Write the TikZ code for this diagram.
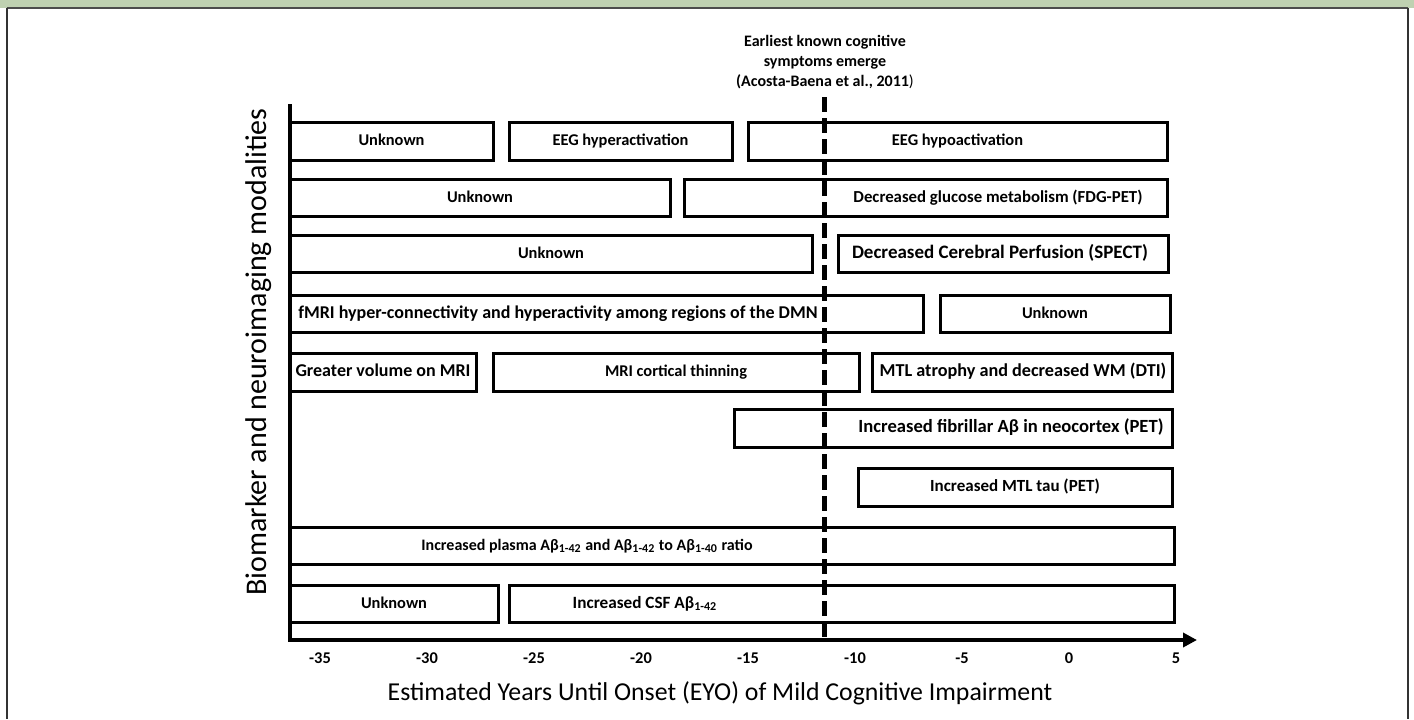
\documentclass[tikz,border=0pt]{standalone}
\usepackage{fontspec}
\setmainfont{Carlito}
\usetikzlibrary{arrows.meta}

\definecolor{headgreen}{HTML}{BFD1B1}

\tikzset{
  bar/.style={draw, line width=1.5pt, minimum height=18.75pt, inner sep=0pt,
    text height=5.6pt, text depth=1.6pt, font=\bfseries\fontsize{8.2}{9}\selectfont},
  lbl/.style={font=\bfseries\fontsize{8.2}{9}\selectfont, inner sep=0pt,
    text height=5.6pt, text depth=1.6pt},
  big/.style={font=\bfseries\fontsize{#1}{10}\selectfont},
  axis/.style={line width=2pt, line join=miter},
  onsetline/.style={line width=2.5pt, dash pattern=on 7.5pt off 3pt},
}

% one bar of the timeline: name, left x, right x, row y, text
\newcommand{\tbar}[5]{\node[bar, minimum width={(#3-#2)*0.5pt}] (#1) at ({(#2+#3)/2},#4) {#5};}

\begin{document}
\begin{tikzpicture}[x=0.5pt, y=-0.5pt]
  \useasboundingbox (0,0) rectangle (1414,719);

  % frame
  \fill[headgreen] (0,0) rectangle (1414,8);
  \draw[black!70, line width=1pt] (7,8) -- (1408,8);
  \draw[black!80, line width=0.6pt] (7,8) -- (7,719);
  \draw[black!80, line width=0.6pt] (1408,8) -- (1408,719);

  % row 1
  \tbar{eegU}{290}{493}{141.5}{Unknown}
  \tbar{eegHyper}{509}{732}{141.5}{EEG hyperactivation}
  \tbar{eegHypo}{748}{1167}{141.5}{EEG hypoactivation}
  % row 2
  \tbar{fdgU}{290}{670}{198}{Unknown}
  \tbar{fdg}{684}{1167}{198}{}
  \node[lbl, big=8.4] (fdgT) at (998,198) {Decreased glucose metabolism (FDG-PET)};
  % row 3
  \tbar{spectU}{290}{812}{254}{Unknown}
  \tbar{spect}{838}{1168}{254}{}
  \node[lbl, big=9.5] (spectT) at (1000,254) {Decreased Cerebral Perfusion (SPECT)};
  % row 4
  \tbar{fmri}{290}{923}{314}{}
  \node[lbl, big=9] (fmriT) at (558,314) {fMRI hyper-connectivity and hyperactivity among regions of the DMN};
  \tbar{fmriU}{940}{1170}{314}{Unknown}
  % row 5
  \tbar{mriVol}{290}{476}{372.5}{}
  \node[lbl, big=9] (mriVolT) at (383,372.5) {Greater volume on MRI};
  \tbar{mriThin}{493}{859}{372.5}{MRI cortical thinning}
  \tbar{dti}{872}{1172}{372.5}{}
  \node[lbl, big=9.1] (dtiT) at (1023,372.5) {MTL atrophy and decreased WM (DTI)};
  % row 6
  \tbar{amyPet}{734}{1172}{428.5}{}
  \node[lbl, big=9.3] (amyPetT) at (1011,428.5) {Increased fibrillar Aβ in neocortex (PET)};
  % row 7
  \tbar{tauPet}{858}{1172}{487.5}{}
  \node[lbl, big=8.5] (tauPetT) at (1015,487.5) {Increased MTL tau (PET)};
  % row 8
  \tbar{plasma}{290}{1174}{546}{}
  \node[lbl, big=8] (plasmaT) at (587,546) {Increased plasma Aβ\textsubscript{1-42} and Aβ\textsubscript{1-42} to Aβ\textsubscript{1-40} ratio};
  % row 9
  \tbar{csfU}{290}{498}{604}{Unknown}
  \tbar{csf}{509}{1174}{604}{}
  \node[lbl, big=8.6] (csfT) at (645,604) {Increased CSF Aβ\textsubscript{1-42}};

  % axes
  \coordinate (ytop) at (290,104);
  \coordinate (origin) at (290,640);
  \coordinate (xend) at (1197,640);
  \draw[axis, -{Triangle[length=7pt, width=7pt]}] (ytop) -- (origin) -- (xend);

  % onset of symptoms
  \coordinate (onsetTop) at (824,97);
  \coordinate (onsetBot) at (824,640);
  \draw[onsetline] (onsetTop) -- (onsetBot);
  \node[align=center, inner sep=0pt, font=\bfseries\fontsize{8}{10}\selectfont] (onsetT) at (825,62)
    {Earliest known cognitive\\symptoms emerge\\(Acosta-Baena et al., 2011\textmd{)}};

  % ticks
  \foreach \v in {-35,-30,...,5}
    \node[lbl] (tick\v) at ({320+(\v+35)*21.4},659) {\v};

  % axis titles
  \node[font=\fontsize{12.9}{14}\selectfont] (xlab) at (720,693)
    {Estimated Years Until Onset (EYO) of Mild Cognitive Impairment};
  \node[font=\fontsize{15}{16}\selectfont, rotate=90] (ylab) at (259,352)
    {Biomarker and neuroimaging modalities};
\end{tikzpicture}
\end{document}
